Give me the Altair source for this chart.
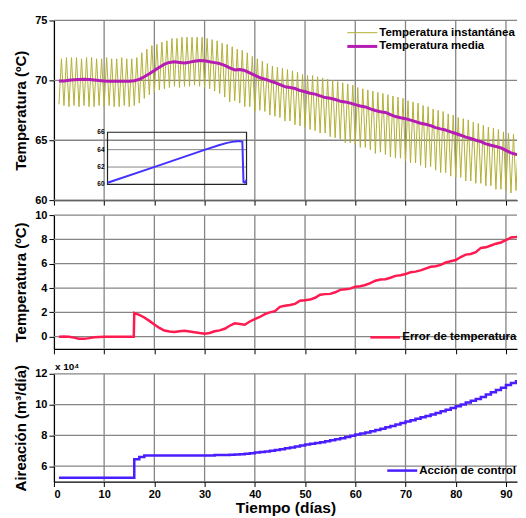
import altair as alt
import pandas as pd

# ---------------- data ----------------
x_ticks = [0, 10, 20, 30, 40, 50, 60, 70, 80, 90]
x_grid = [10, 20, 30, 40, 50, 60, 70, 80, 90]
y1_ticks = [60, 65, 70, 75]
y2_ticks = [0, 2, 4, 6, 8, 10]
y3_ticks = [6, 8, 10, 12]

# Temperatura instantánea: mínimos diarios (días 1..94) y máximos diarios (días 1..93), ºC
t_min = [68.0, 67.9, 67.8, 67.9, 67.8, 67.9, 67.8, 67.8, 67.9, 67.8, 67.9, 67.8, 67.8, 67.9, 67.8, 67.9,
         68.1, 68.5, 68.8, 69.0, 69.2, 69.3, 69.4, 69.5, 69.4, 69.5, 69.5, 69.6, 69.5, 69.4,
         69.3, 69.1, 68.9, 68.6, 68.2, 68.3, 68.1, 67.8, 67.8, 67.4,
         67.5, 67.4, 67.1, 67.0, 66.9, 66.6, 66.6, 66.3, 66.2, 66.1,
         65.9, 65.8, 65.6, 65.6, 65.3, 65.2, 65.1, 64.8, 64.8, 64.7,
         64.4, 64.4, 64.2, 63.9, 64.0, 63.8, 63.6, 63.5, 63.5, 63.3,
         63.1, 63.1, 62.9, 62.7, 62.8, 62.5, 62.3, 62.3, 62.0, 61.9,
         61.9, 61.6, 61.6, 61.4, 61.4, 61.2, 61.2, 60.9, 60.9, 60.8,
         60.6, 60.8, 60.5, 60.6]
t_max = [71.8, 71.9, 71.9, 71.9, 71.8, 71.9, 71.9, 71.8, 71.8, 71.9, 71.8, 71.8, 71.9, 71.8, 71.8, 71.9,
         72.3, 72.6, 72.9, 73.0, 73.2, 73.3, 73.5, 73.5, 73.6, 73.6, 73.6, 73.6, 73.6, 73.5,
         73.4, 73.3, 73.1, 73.0, 72.8, 72.6, 72.5, 72.3, 72.0, 71.8,
         71.6, 71.4, 71.2, 71.1, 71.0, 70.9, 70.8, 70.7, 70.5, 70.4,
         70.4, 70.3, 70.2, 70.1, 70.0, 69.9, 69.8, 69.7, 69.6, 69.4,
         69.3, 69.2, 69.1, 69.0, 68.9, 68.8, 68.7, 68.6, 68.5, 68.3,
         68.2, 68.1, 67.9, 67.8, 67.6, 67.5, 67.4, 67.2, 67.1, 66.9,
         66.8, 66.7, 66.5, 66.4, 66.25, 66.1, 66.0, 65.9, 65.7, 65.6,
         65.5, 65.4, 65.3]

# Temperatura media
media_dias = list(range(1, 94)) + [93.6]
media_vals = [69.95, 69.95, 70.0, 70.05, 70.08, 70.1, 70.08, 70.03, 69.98, 69.95,
              69.93, 69.92, 69.92, 69.92, 69.93, 69.97, 70.08, 70.3, 70.55, 70.82,
              71.1, 71.35, 71.5, 71.55, 71.5, 71.45, 71.52, 71.6, 71.66, 71.63,
              71.55, 71.48, 71.4, 71.25, 71.05, 70.87, 70.9, 70.82, 70.62, 70.42,
              70.22, 70.1, 69.95, 69.82, 69.65, 69.47, 69.4, 69.32, 69.15, 69.05,
              68.92, 68.85, 68.7, 68.56, 68.5, 68.4, 68.26, 68.2, 68.1, 67.97,
              67.86, 67.78, 67.62, 67.48, 67.38, 67.32, 67.14, 66.98, 66.88, 66.8,
              66.68, 66.55, 66.42, 66.33, 66.22, 66.05, 65.95, 65.85, 65.7, 65.56,
              65.42, 65.26, 65.15, 65.0, 64.88, 64.7, 64.58, 64.48, 64.36, 64.15,
              63.95, 63.82, 63.75, 63.75]

# Gráfico insertado
ins_x = [0.0, 0.345, 0.703, 0.80, 0.86, 0.918, 0.95, 0.97, 0.978, 0.988, 1.0]
ins_y = [60.2, 62.05, 64.0, 64.5, 64.78, 64.95, 65.0, 64.9, 60.3, 60.2, 60.5]
ins_ticks = [60, 62, 64, 66]
ins_grid = [62, 64]

# Error de temperatura
err_dias = list(range(1, 16)) + [15.9, 16] + list(range(17, 94)) + [93.6]
err_vals = [0.0, 0.02, 0.0, -0.08, -0.17, -0.18, -0.12, -0.05, -0.02, 0.0, 0.0, 0.0, 0.0, 0.0, 0.0,
            0.0, 1.95,
            1.8, 1.58, 1.3, 1.0, 0.72, 0.5, 0.42, 0.38, 0.45, 0.48, 0.42, 0.36, 0.3, 0.25,
            0.3, 0.44, 0.52, 0.65, 0.9, 1.1, 1.05, 0.98, 1.25, 1.45,
            1.62, 1.85, 2.0, 2.1, 2.45, 2.55, 2.6, 2.7, 2.95, 3.0,
            3.05, 3.2, 3.45, 3.5, 3.52, 3.65, 3.85, 3.9, 3.95, 4.1,
            4.15, 4.25, 4.4, 4.6, 4.7, 4.72, 4.85, 5.0, 5.05, 5.15,
            5.3, 5.35, 5.45, 5.6, 5.75, 5.8, 5.9, 6.1, 6.2, 6.3,
            6.55, 6.75, 6.8, 6.95, 7.3, 7.35, 7.5, 7.65, 7.75, 7.95,
            8.15, 8.2, 8.3, 8.3]

# Acción de control (aireación, x 10^4 m3/día)
air_dias = list(range(1, 95))
air_vals = [5.25] * 15 + [6.45, 6.6] + [6.69] * 14 + \
           [6.72, 6.72, 6.73, 6.74, 6.76, 6.78, 6.81, 6.84, 6.88,
            6.92, 6.96, 7.0, 7.05, 7.1, 7.16, 7.22, 7.28, 7.34, 7.4,
            7.45, 7.5, 7.56, 7.62, 7.68, 7.75, 7.82, 7.9, 7.97, 8.05,
            8.12, 8.19, 8.27, 8.35, 8.43, 8.52, 8.61, 8.71, 8.8, 8.9,
            8.99, 9.08, 9.17, 9.26, 9.35, 9.45, 9.56, 9.67, 9.78, 9.89,
            10.01, 10.13, 10.25, 10.37, 10.5, 10.65, 10.8, 10.95, 11.1, 11.27,
            11.4, 11.52, 11.65, 11.7]

S_INST = "Temperatura instantánea"
S_MED = "Temperatura media"
S_ERR = "Error de temperatura"
S_AIR = "Acción de control"
ESCALA = "x 10⁴"

# ---------------- tables ----------------
rows = []
for i in range(len(t_max)):
    rows.append({"dia": i + 1, "temp": t_min[i], "serie": S_INST})
    rows.append({"dia": i + 1.5, "temp": t_max[i], "serie": S_INST})
rows.append({"dia": len(t_max) + 1, "temp": t_min[len(t_max)], "serie": S_INST})
for d, v in zip(media_dias, media_vals):
    rows.append({"dia": d, "temp": v, "serie": S_MED})
df1 = pd.DataFrame(rows)

df_ins = pd.DataFrame({"ix": ins_x, "iy": ins_y})
df_frame = pd.DataFrame({"x0": [0], "x1": [1], "y0": [ins_ticks[0]], "y1": [ins_ticks[-1]]})
df_igrid = pd.DataFrame({"y": ins_grid, "x0": [0] * len(ins_grid), "x1": [1] * len(ins_grid)})
df_ilab = pd.DataFrame({"y": ins_ticks, "x": [0] * len(ins_ticks), "t": [str(v) for v in ins_ticks]})
df_err = pd.DataFrame({"dia": err_dias, "err": err_vals, "serie": S_ERR})
df_air = pd.DataFrame({"dia": air_dias, "air": air_vals, "serie": S_AIR})
df_esc = pd.DataFrame({"t": [ESCALA]})
df_xg = pd.DataFrame({"dia": x_grid})

# ---------------- styling ----------------
FONT = "Liberation Sans"
W = 464
GRIDC = "#858585"
GRIDW = 1.3
xscale = alt.Scale(domain=[0, 92.2], nice=False, zero=False)
SYM = "M-4.7,0H1.3"


def xaxis(show):
    if show:
        return alt.Axis(values=x_ticks, title="Tiempo (días)", titleFontSize=15.5, titlePadding=1, grid=False)
    return alt.Axis(values=x_ticks, labels=False, title=None, grid=False)


def yaxis(vals, title):
    return alt.Axis(values=vals, title=title, grid=False)


def grids(ticks, yfield, yscale, yax, xax):
    vg = alt.Chart(df_xg).mark_rule(color=GRIDC, strokeWidth=GRIDW).encode(
        x=alt.X("dia:Q", scale=xscale, axis=xax))
    hg = alt.Chart(pd.DataFrame({yfield: ticks})).mark_rule(color=GRIDC, strokeWidth=GRIDW).encode(
        y=alt.Y(f"{yfield}:Q", scale=yscale, axis=yax))
    return vg, hg


def legend(x, y, sw=None):
    kw = dict(title=None, orient="none", legendX=x, legendY=y, symbolType=SYM, symbolSize=100,
              labelFontSize=11.5, labelFont=FONT, labelFontWeight="bold", labelColor="black",
              labelOffset=2, rowPadding=1, padding=0, labelLimit=300)
    if sw is not None:
        kw["symbolStrokeWidth"] = sw
    return alt.Legend(**kw)


# Panel 1
y1s = alt.Scale(domain=[60, 75], nice=False, zero=False)
y1ax = yaxis(y1_ticks, "Temperatura (ºC)")
x1ax = xaxis(False)
leg1 = legend(311, 6.5)
vg1, hg1 = grids(y1_ticks, "temp", y1s, y1ax, x1ax)
main_line = alt.Chart(df1).mark_line(clip=True, strokeJoin="bevel").encode(
    x=alt.X("dia:Q", scale=xscale, axis=x1ax),
    y=alt.Y("temp:Q", scale=y1s, axis=y1ax),
    color=alt.Color("serie:N", scale=alt.Scale(domain=[S_INST, S_MED], range=["#b3b036", "#b41cb4"]),
                    legend=leg1),
    strokeWidth=alt.StrokeWidth("serie:N", scale=alt.Scale(domain=[S_INST, S_MED], range=[1, 3]),
                                legend=leg1),
    order=alt.Order("dia:Q"),
)
main = alt.layer(vg1, hg1, main_line)

isx = alt.Scale(domain=[0, 1], range=[53.7, 193], nice=False, zero=False)
isy = alt.Scale(domain=[60, 66], range=[164.3, 112], nice=False, zero=False)

ins_grid_c = alt.Chart(df_igrid).mark_rule(color="#888888", strokeWidth=1).encode(
    x=alt.X("x0:Q", scale=isx, axis=None), x2="x1", y=alt.Y("y:Q", scale=isy, axis=None))
ins_frame = alt.Chart(df_frame).mark_rect(fillOpacity=0, stroke="#222222", strokeWidth=1.2).encode(
    x=alt.X("x0:Q", scale=isx, axis=None), x2="x1",
    y=alt.Y("y0:Q", scale=isy, axis=None), y2="y1")
ins_line = alt.Chart(df_ins).mark_line(color="#4232ff", strokeWidth=2).encode(
    x=alt.X("ix:Q", scale=isx, axis=None), y=alt.Y("iy:Q", scale=isy, axis=None))
ins_lab = alt.Chart(df_ilab).mark_text(align="right", baseline="middle", dx=-3, fontSize=6.5,
                                        fontWeight="bold", font=FONT, color="black").encode(
    x=alt.X("x:Q", scale=isx, axis=None), y=alt.Y("y:Q", scale=isy, axis=None), text="t:N")
inset = alt.layer(ins_grid_c, ins_frame, ins_line, ins_lab)

p1 = alt.layer(main, inset).resolve_scale(x="independent", y="independent").properties(width=W, height=180)

# Panel 2
y2s = alt.Scale(domain=[-1, 10], nice=False, zero=False)
y2ax = yaxis(y2_ticks, "Temperatura (ºC)")
x2ax = xaxis(False)
vg2, hg2 = grids(y2_ticks, "err", y2s, y2ax, x2ax)
err_line = alt.Chart(df_err).mark_line(strokeWidth=2.5, clip=True).encode(
    x=alt.X("dia:Q", scale=xscale, axis=x2ax),
    y=alt.Y("err:Q", scale=y2s, axis=y2ax),
    color=alt.Color("serie:N", scale=alt.Scale(domain=[S_ERR], range=["#ff1a50"]),
                    legend=legend(334, 116, 2.5)),
)
p2 = alt.layer(vg2, hg2, err_line).properties(width=W, height=134)

# Panel 3
y3s = alt.Scale(domain=[5, 12], nice=False, zero=False)
y3ax = yaxis(y3_ticks, "Aireación (m³/día)")
x3ax = xaxis(True)
vg3, hg3 = grids(y3_ticks, "air", y3s, y3ax, x3ax)
air_line = alt.Chart(df_air).mark_line(strokeWidth=2.5, clip=True, interpolate="step-after").encode(
    x=alt.X("dia:Q", scale=xscale, axis=x3ax),
    y=alt.Y("air:Q", scale=y3s, axis=y3ax),
    color=alt.Color("serie:N", scale=alt.Scale(domain=[S_AIR], range=["#4b1eff"]),
                    legend=legend(351, 90.5, 2.5)),
)
esc = alt.Chart(df_esc).mark_text(align="left", baseline="alphabetic", fontSize=10, fontWeight="bold",
                                  font=FONT, color="black").encode(
    x=alt.value(1), y=alt.value(-4), text="t:N")
p3 = alt.layer(vg3, hg3, air_line, esc).properties(width=W, height=108)

top = alt.vconcat(p1, p2, spacing=3).resolve_scale(
    color="independent", strokeWidth="independent"
).resolve_legend(color="independent", strokeWidth="independent")

chart = alt.vconcat(top, p3, spacing=7).resolve_scale(
    color="independent", strokeWidth="independent"
).resolve_legend(color="independent", strokeWidth="independent").properties(
    padding={"left": 5, "top": 6, "right": 0, "bottom": 0}
).configure_view(stroke=None).configure_axis(
    labelFont=FONT, labelFontWeight="bold", labelFontSize=11, labelColor="black",
    titleFont=FONT, titleFontWeight="bold", titleFontSize=15, titleColor="black",
    domainColor="black", domainWidth=1.3, tickColor="black", tickSize=5, labelPadding=2,
    titlePadding=6,
)

chart.save("out.html", embed_options={"renderer": "svg", "actions": False})
